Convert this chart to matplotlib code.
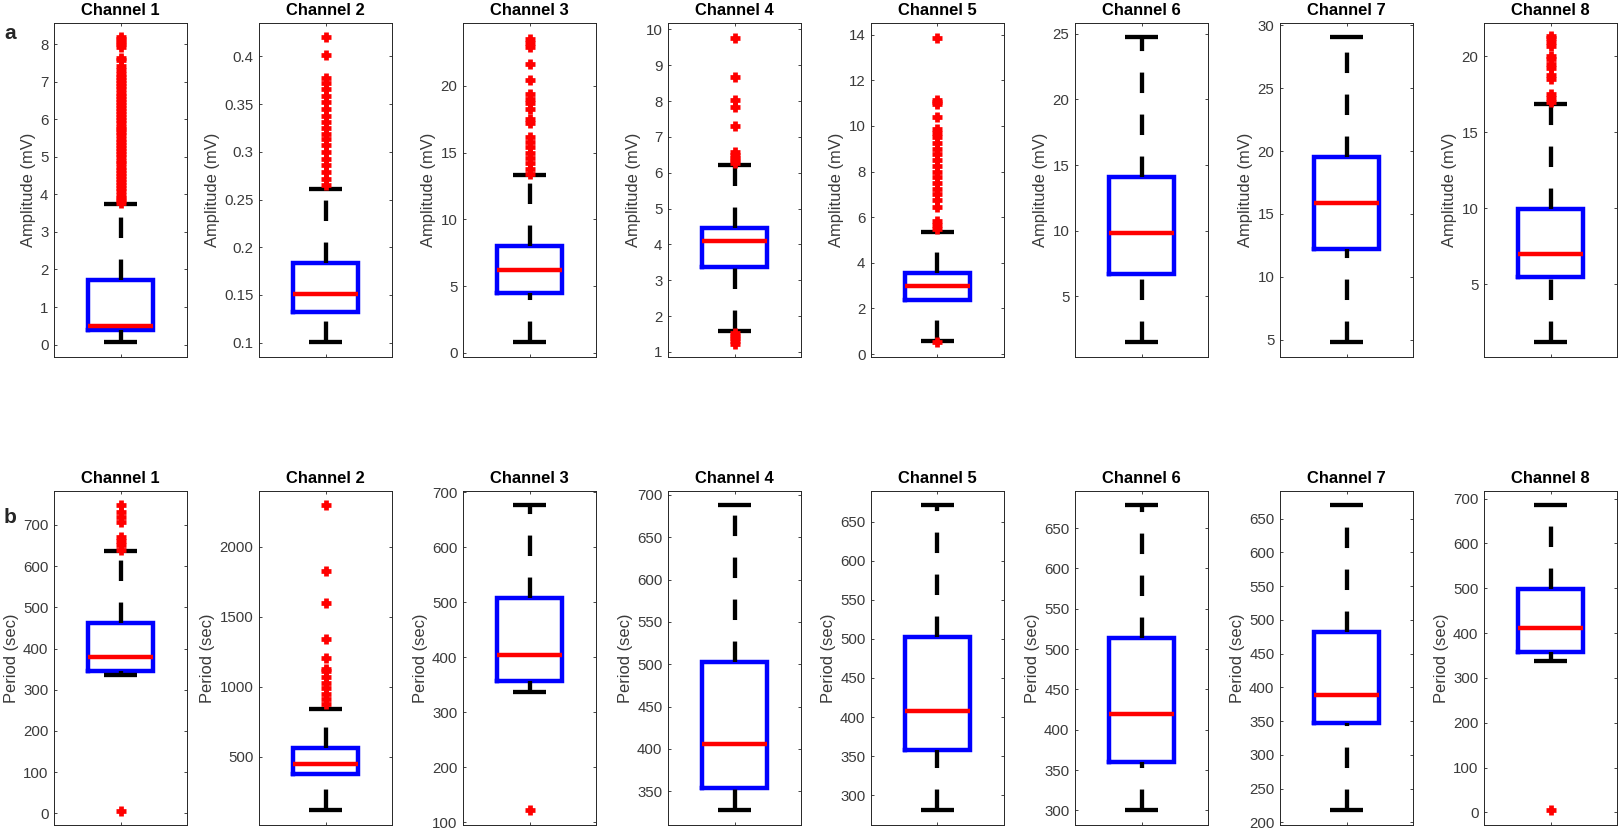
"""
Boxplots of amplitude (a) and period (b) for eight channels.
"""

import matplotlib
matplotlib.use("Agg")
import matplotlib.pyplot as plt

plt.rcParams["font.family"] = ["Liberation Sans", "DejaVu Sans"]

channels = ["Channel 1", "Channel 2", "Channel 3", "Channel 4",
            "Channel 5", "Channel 6", "Channel 7", "Channel 8"]

# (a) amplitude, mV
amp_lo = [0.07, 0.101, 0.82, 1.58, 0.58, 1.53, 4.81, 1.19]
amp_q1 = [0.40, 0.132, 4.49, 3.36, 2.38, 6.70, 12.2, 5.5]
amp_med = [0.50, 0.1515, 6.18, 4.11, 2.99, 9.86, 15.85, 7.0]
amp_q3 = [1.73, 0.184, 8.03, 4.47, 3.57, 14.12, 19.5, 9.95]
amp_hi = [3.73, 0.261, 13.34, 6.23, 5.34, 24.75, 29.07, 16.83]
amp_out = [
    [3.76, 3.84, 3.91, 3.99, 4.08, 4.17, 4.24, 4.33, 4.41, 4.5, 4.57,
     4.66, 4.74, 4.83, 4.9, 4.99, 5.07, 5.16, 5.24, 5.31, 5.4, 5.48,
     5.57, 5.65, 5.73, 5.8, 5.89, 5.97, 6.06, 6.14, 6.22, 6.3, 6.39,
     6.47, 6.55, 6.63, 6.71, 6.8, 6.88, 6.96, 7.04, 7.13, 7.21, 7.3,
     7.42, 7.58, 7.63, 7.92, 7.99, 8.06, 8.13, 8.19],
    [0.265, 0.272, 0.279, 0.286, 0.293, 0.3, 0.307, 0.313, 0.319,
     0.325, 0.331, 0.338, 0.345, 0.352, 0.359, 0.366, 0.372, 0.377,
     0.401, 0.42],
    [13.4, 13.8, 14.2, 14.6, 15.0, 15.4, 15.8, 16.2, 17.2, 17.5, 18.3,
     18.7, 19.0, 19.4, 20.4, 21.6, 22.9, 23.2, 23.5],
    [6.28, 6.35, 6.42, 6.5, 6.58, 7.31, 7.84, 8.04, 8.67, 9.77,
     1.22, 1.3, 1.38, 1.45, 1.53],
    [5.47, 5.65, 5.85, 6.43, 6.75, 7.0, 7.25, 7.5, 7.75, 8.0, 8.25,
     8.5, 8.75, 9.0, 9.25, 9.5, 9.7, 9.86, 10.39, 10.95, 11.05, 11.15,
     13.86, 0.51],
    [],
    [],
    [17.0, 17.25, 17.5, 18.5, 18.8, 19.2, 19.5, 19.8, 20.05, 20.65,
     20.95, 21.2, 21.35],
]

# (b) period, sec
per_lo = [334.7, 120, 336, 327.6, 280.9, 300.8, 218.3, 337.4]
per_q1 = [345, 377, 356, 354, 357.4, 359.7, 347.7, 357.4]
per_med = [379, 448, 404, 406, 407.6, 420.2, 388, 410.8]
per_q3 = [462, 566, 507.5, 503, 502, 513.7, 481.6, 498]
per_hi = [635.5, 844, 676, 687.8, 670.8, 678.4, 669.7, 685]
per_out = [
    [640, 650, 660, 670, 706, 718, 732, 748, 7],
    [875, 910, 950, 990, 1030, 1070, 1110, 1130, 1205, 1345, 1597,
     1824, 2297],
    [122],
    [],
    [],
    [],
    [],
    [5],
]

amp_ylim = [(-0.33, 8.56), (0.085, 0.435), (-0.3, 24.7), (0.86, 10.18),
            (-0.13, 14.51), (0.39, 25.81), (3.62, 30.19), (0.21, 22.19)]
amp_ticks = [range(0, 9), [0.1, 0.15, 0.2, 0.25, 0.3, 0.35, 0.4],
             range(0, 21, 5), range(1, 11), range(0, 15, 2),
             range(5, 26, 5), range(5, 31, 5), range(5, 21, 5)]
per_ylim = [(-28, 782), (13, 2399), (95, 702), (310, 704.7),
            (262, 689), (282, 696), (196, 691), (-28, 717)]
per_ticks = [range(0, 701, 100), range(500, 2001, 500),
             range(100, 701, 100), range(350, 701, 50), range(300, 651, 50),
             range(300, 651, 50), range(200, 651, 50), range(0, 701, 100)]

GREY = "#262626"
TICK_GREY = "#3a3a3a"
W, H = 1621, 831
LEFTS = [54, 259, 463, 668, 871, 1075, 1280, 1484]
AX_W = 133
AX_H = 334
ROW_TOP = [23, 491]


def draw_box(ax, lo, q1, med, q3, hi, out):
    stats = [{"whislo": lo, "q1": q1, "med": med, "q3": q3,
              "whishi": hi, "fliers": out}]
    art = ax.bxp(
        stats, positions=[1], widths=0.49, capwidths=0.245,
        boxprops=dict(color="blue", linewidth=3.2, solid_joinstyle="miter"),
        medianprops=dict(color="red", linewidth=3.2, solid_capstyle="butt"),
        whiskerprops=dict(color="black", linewidth=3.1,
                          linestyle=(0, (4.75, 5.0))),
        capprops=dict(color="black", linewidth=3.1, solid_capstyle="butt"),
        flierprops=dict(marker="+", markersize=7.5, markeredgewidth=3.4,
                        markeredgecolor="red", linestyle="none"),
        manage_ticks=False,
    )
    # lower whisker runs from the cap up to the box, as in MATLAB
    low = art["whiskers"][0]
    low.set_ydata(low.get_ydata()[::-1])


def style_axis(ax, title, ylabel, ylim, ticks):
    ax.set_xlim(0.5, 1.5)
    ax.set_ylim(*ylim)
    ax.set_xticks([1])
    ax.set_xticklabels([])
    ax.set_yticks(list(ticks))
    ax.yaxis.set_major_formatter("{x:g}")
    ax.tick_params(direction="in", length=2.5, width=0.6, colors=GREY,
                   labelcolor=TICK_GREY, labelsize=10.8, right=True,
                   top=True, pad=4)
    for sp in ax.spines.values():
        sp.set_color(GREY)
        sp.set_linewidth(0.7)
    ax.set_title(title, fontsize=11.9, fontweight="bold", color="black",
                 pad=6)
    ax.set_ylabel(ylabel, fontsize=11.9, color=TICK_GREY, labelpad=3)


fig = plt.figure(figsize=(W / 100, H / 100), dpi=100)

rows = [
    (amp_lo, amp_q1, amp_med, amp_q3, amp_hi, amp_out, "Amplitude (mV)",
     amp_ylim, amp_ticks),
    (per_lo, per_q1, per_med, per_q3, per_hi, per_out, "Period (sec)",
     per_ylim, per_ticks),
]

for r, (lo, q1, med, q3, hi, out, ylabel, ylims, ticks) in enumerate(rows):
    for i in range(8):
        rect = [LEFTS[i] / W, 1 - (ROW_TOP[r] + AX_H) / H, AX_W / W, AX_H / H]
        ax = fig.add_axes(rect)
        draw_box(ax, lo[i], q1[i], med[i], q3[i], hi[i], out[i])
        style_axis(ax, channels[i], ylabel, ylims[i], ticks[i])

fig.text(4 / W, 1 - 39 / H, "a", fontsize=15, fontweight="bold",
         color=GREY, va="baseline", ha="left")
fig.text(4 / W, 1 - 523 / H, "b", fontsize=15, fontweight="bold",
         color=GREY, va="baseline", ha="left")

fig.savefig("out.png", dpi=100)
